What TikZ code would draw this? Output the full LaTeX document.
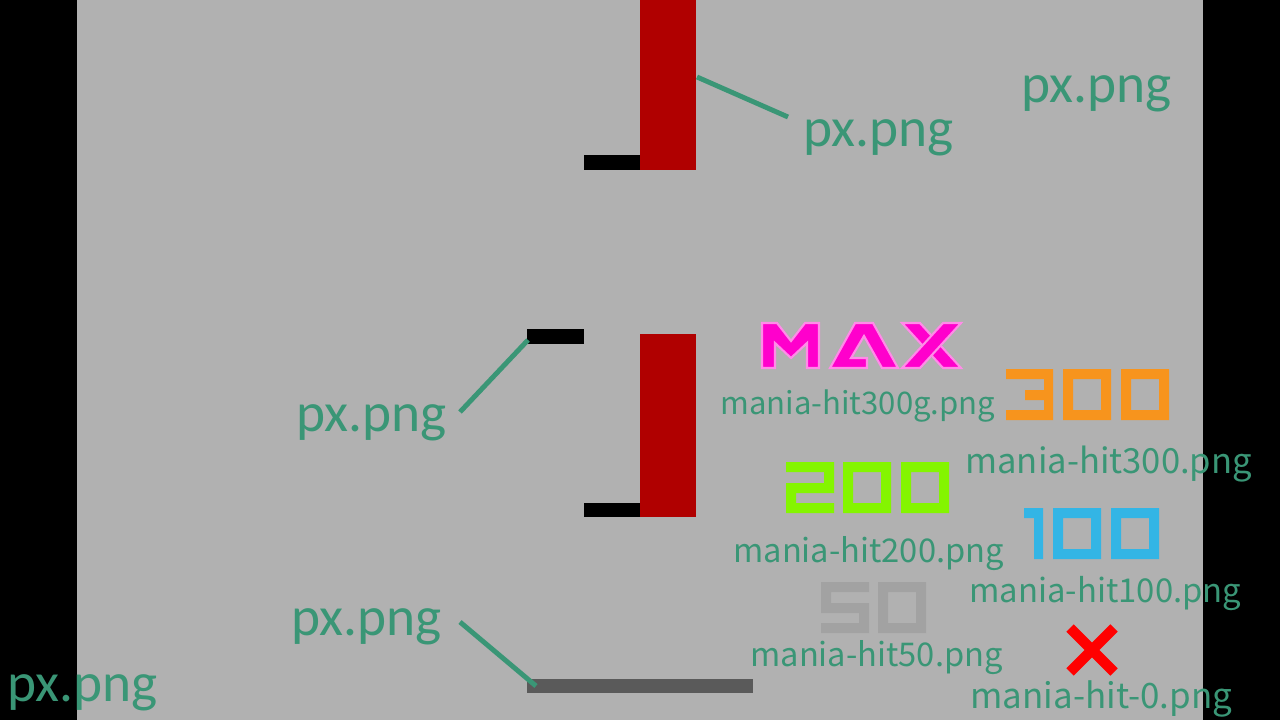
\documentclass[tikz,border=0pt]{standalone}
\usepackage{fontspec}
\setmainfont{Carlito}
\newfontfamily\gothfont{Noto Sans CJK JP}
\usepackage{tikz}
\definecolor{skinbg}{RGB}{177,177,177}
\definecolor{lblgreen}{RGB}{58,150,118}
\definecolor{barred}{RGB}{176,0,0}
\definecolor{barlight}{RGB}{90,90,90}
\definecolor{hitmax}{RGB}{255,0,204}
\definecolor{hitthree}{RGB}{247,148,29}
\definecolor{hittwo}{RGB}{132,245,0}
\definecolor{hitone}{RGB}{51,181,229}
\definecolor{hitfifty}{RGB}{162,162,162}
\definecolor{hitmiss}{RGB}{255,0,0}

\begin{document}
\begin{tikzpicture}[x=0.02cm, y=-0.02cm,
    pxlabel/.style = {text=lblgreen, inner sep=0, anchor=base west, font=\fontsize{31.5}{36}\selectfont},
    hitlabel/.style = {text=lblgreen, inner sep=0, anchor=base west, font=\gothfont\fontsize{#1}{20}\selectfont},
    pointer/.style = {draw=lblgreen, line width=2.8pt}]
            \useasboundingbox (0,0) rectangle (1280,720);
            \fill[black] (0,0) rectangle (1280,720);
            \fill[skinbg] (77,0) rectangle (1203,720);

            % stage bars
            \fill[barred] (640,0) rectangle (696,170);
            \fill[black] (584,155) rectangle (640,170);
            \fill[black] (527,329) rectangle (584,344);
            \fill[barred] (640,334) rectangle (696,517);
            \fill[black] (584,503) rectangle (640,517);
            \fill[barlight] (527,679) rectangle (753,693);

            % judgement sprites
            \begin{scope}[draw=hitmax!45, line width=1.2pt, fill=hitmax]
                \filldraw (762,368) -- (762,323) -- (777,323) -- (791,341) -- (805,323) -- (819,323) -- (819,368) -- (807,368) -- (807,343) -- (791,358) -- (775,343) -- (775,368) -- cycle;
                \filldraw (830,368) -- (855,323) -- (873,323) -- (898,368) -- (882,368) -- (864,336) -- (851,358) -- (867,358) -- (867,368) -- cycle;
                \filldraw (902,323) -- (920,323) -- (961,368) -- (943,368) -- cycle;
                \filldraw (943,323) -- (961,323) -- (920,368) -- (902,368) -- cycle;
            \end{scope}

            \fill[hitthree] (1006,369) rectangle (1053,379) (1025,390) rectangle (1053,400) (1006,410) rectangle (1053,420) (1044,369) rectangle (1053,420);
            \fill[hitthree, even odd rule] (1063,369) rectangle (1111,420) (1073,379) rectangle (1101,410);
            \fill[hitthree, even odd rule] (1121,369) rectangle (1169,420) (1131,379) rectangle (1159,410);

            \fill[hittwo] (786,462) rectangle (834,472) (824,462) rectangle (834,493) (786,483) rectangle (834,493) (786,483) rectangle (796,513) (786,503) rectangle (834,513);
            \fill[hittwo, even odd rule] (843,462) rectangle (891,513) (853,472) rectangle (881,503);
            \fill[hittwo, even odd rule] (901,462) rectangle (949,513) (911,472) rectangle (939,503);

            \fill[hitone] (1024,508) rectangle (1043,518) (1034,508) rectangle (1043,559);
            \fill[hitone, even odd rule] (1053,508) rectangle (1101,559) (1063,518) rectangle (1091,549);
            \fill[hitone, even odd rule] (1111,508) rectangle (1159,559) (1121,518) rectangle (1149,549);

            \fill[hitfifty] (821,582) rectangle (869,592) (821,582) rectangle (831,613) (821,603) rectangle (869,613) (859,603) rectangle (869,633) (821,623) rectangle (869,633);
            \fill[hitfifty, even odd rule] (878,582) rectangle (926,633) (888,592) rectangle (916,623);

            \draw[hitmiss, line width=6pt] (1070,628) -- (1114,672) (1114,628) -- (1070,672);

            % labels
            \node[pxlabel] (pxCorner) at (1021,102) {px.png};
            \node[pxlabel] (pxTop) at (803,146) {px.png};
            \node[pxlabel] (pxMid) at (296,431) {px.png};
            \node[pxlabel] (pxLow) at (291,635) {px.png};
            \node[pxlabel] (pxEdge) at (7,701) {px.png};

            \node[hitlabel=17.7] (lbl300g) at (720,414) {mania-hit300g.png};
            \node[hitlabel=19.7] (lbl300) at (965,473) {mania-hit300.png};
            \node[hitlabel=18.6] (lbl200) at (733,562) {mania-hit200.png};
            \node[hitlabel=18.7] (lbl100) at (969,602) {mania-hit100.png};
            \node[hitlabel=18.6] (lbl50) at (750,666) {mania-hit50.png};
            \node[hitlabel=19.9] (lbl0) at (970,708) {mania-hit-0.png};

            % pointers
            \coordinate (topBar) at (697,77);
            \coordinate (topEnd) at (788,117);
            \coordinate (midBar) at (528,340);
            \coordinate (midEnd) at (460,412);
            \coordinate (lowBar) at (536,686);
            \coordinate (lowEnd) at (460,622);
            \path[pointer] (topBar) edge (topEnd);
            \path[pointer] (midBar) edge (midEnd);
            \path[pointer] (lowBar) edge (lowEnd);
        \end{tikzpicture}
\end{document}
